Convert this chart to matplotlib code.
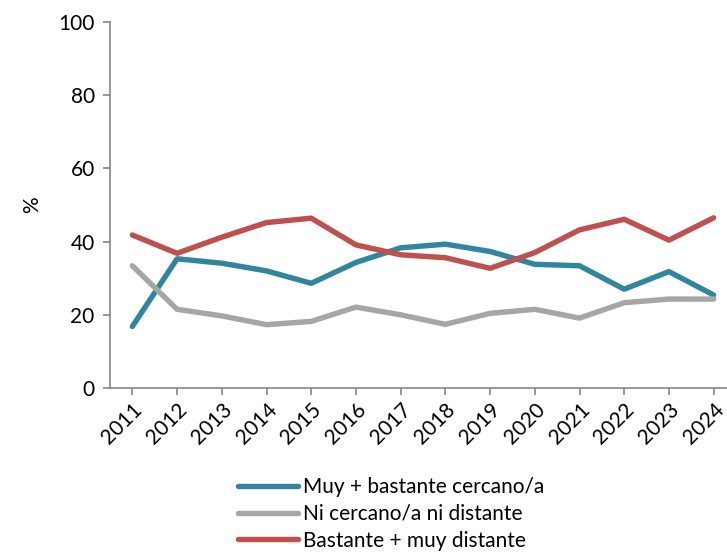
import matplotlib
matplotlib.use("Agg")
import matplotlib.pyplot as plt

# datos
years = [2011, 2012, 2013, 2014, 2015, 2016, 2017, 2018, 2019, 2020, 2021, 2022, 2023, 2024]
cercano = [16.8, 35.3, 34.1, 32.0, 28.6, 34.3, 38.3, 39.3, 37.3, 33.8, 33.4, 27.0, 31.8, 25.4]
ni_ni = [33.4, 21.5, 19.7, 17.3, 18.2, 22.1, 20.0, 17.4, 20.4, 21.5, 19.1, 23.3, 24.3, 24.3]
distante = [41.8, 36.8, 41.2, 45.2, 46.4, 39.1, 36.4, 35.6, 32.7, 37.0, 43.2, 46.1, 40.4, 46.5]
labels = ["Muy + bastante cercano/a", "Ni cercano/a ni distante", "Bastante + muy distante"]
colors = ["#31869F", "#A6A6A6", "#C0504D"]

plt.rcParams['font.family'] = ['Lato', 'DejaVu Sans']

fig = plt.figure(figsize=(7.27, 5.55), dpi=100)
ax = fig.add_axes([110/727, 167/555, 626/727, 366/555])

x = list(range(len(years)))
for serie, lab, col in zip([cercano, ni_ni, distante], labels, colors):
    ax.plot(x, serie, color=col, lw=3.9, label=lab, solid_capstyle='round', solid_joinstyle='round')

ax.set_xlim(-0.5, len(years) - 0.5)
ax.set_ylim(0, 100)
ax.set_yticks([0, 20, 40, 60, 80, 100])
ax.set_xticks(x)
ax.set_xticklabels([str(y) for y in years], rotation=45, ha='right', rotation_mode='anchor')
ax.tick_params(axis='both', labelsize=15, color='#868686', length=5, width=1.2)
ax.tick_params(axis='x', pad=3)
ax.tick_params(axis='y', pad=6)
for s in ['top', 'right']:
    ax.spines[s].set_visible(False)
for s in ['left', 'bottom']:
    ax.spines[s].set_color('#868686')
    ax.spines[s].set_linewidth(1.2)
ax.set_ylabel('%', fontsize=15, labelpad=12)

fig.legend(loc='upper left', bbox_to_anchor=(238/727, 1 - 477/555), frameon=False,
           fontsize=15, handlelength=2.9, handletextpad=0.2, labelspacing=0.33,
           borderpad=0, borderaxespad=0)

fig.savefig('out.png', dpi=100)
